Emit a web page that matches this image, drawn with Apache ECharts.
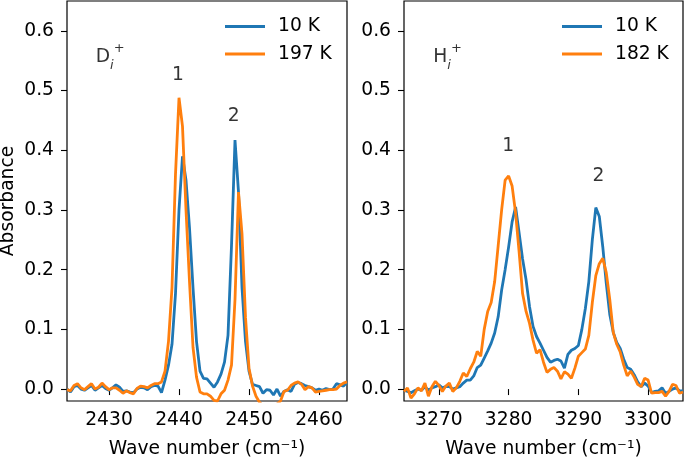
<!DOCTYPE html>
<html>
<head>
<meta charset="utf-8">
<script src="https://cdn.jsdelivr.net/npm/echarts@6/dist/echarts.min.js"></script>
<style>
html,body{margin:0;padding:0;background:#fff;}
#chart{width:685px;height:458px;}
</style>
</head>
<body>
<div id="chart"></div>
<script>
// ---- Data ----
var leftWave = [2424,2424.5,2425,2425.5,2426,2426.5,2427,2427.5,2428,2428.5,
  2429,2429.5,2430,2430.5,2431,2431.5,2432,2432.5,2433,2433.5,
  2434,2434.5,2435,2435.5,2436,2436.5,2437,2437.5,2438,2438.5,
  2439,2439.5,2440,2440.5,2441,2441.5,2442,2442.5,2443,2443.5,
  2444,2444.5,2445,2445.5,2446,2446.5,2447,2447.5,2448,2448.5,
  2449,2449.5,2450,2450.5,2451,2451.5,2452,2452.5,2453,2453.5,
  2454,2454.5,2455,2455.5,2456,2456.5,2457,2457.5,2458,2458.5,
  2459,2459.5,2460,2460.5,2461,2461.5,2462,2462.5,2463,2463.5,
  2464];
var left10K = [0.000,-0.005,0.004,0.006,0.000,-0.002,0.002,0.006,-0.002,0.002,
  0.006,0.001,-0.002,0.002,0.007,0.003,-0.004,-0.003,-0.005,-0.006,
  0.000,0.003,0.002,-0.001,0.004,0.006,0.005,-0.006,0.015,0.040,
  0.075,0.160,0.300,0.390,0.350,0.270,0.170,0.080,0.030,0.018,
  0.017,0.010,0.003,0.012,0.025,0.045,0.090,0.240,0.417,0.330,
  0.170,0.080,0.030,0.008,0.006,0.004,-0.007,-0.001,-0.002,-0.010,
  0.000,-0.012,-0.004,-0.001,-0.004,0.008,0.011,0.009,0.006,0.004,
  0.002,-0.002,0.000,-0.002,0.001,-0.001,0.000,0.009,0.007,0.005,
  0.011];
var left197K = [-0.001,-0.003,0.006,0.009,0.002,-0.001,0.004,0.009,0.000,0.003,
  0.010,0.004,-0.001,0.002,0.002,-0.002,-0.007,-0.003,-0.006,-0.008,
  0.001,0.005,0.004,0.002,0.006,0.009,0.009,0.012,0.030,0.080,
  0.170,0.360,0.488,0.440,0.300,0.180,0.070,0.020,-0.005,-0.008,
  -0.008,-0.012,-0.019,-0.020,-0.008,-0.002,0.015,0.040,0.150,0.330,
  0.260,0.120,0.035,0.005,-0.012,-0.022,-0.028,-0.030,-0.030,-0.028,
  -0.025,-0.020,-0.004,-0.002,0.006,0.010,0.012,0.008,-0.001,0.004,
  0.002,-0.005,-0.004,-0.003,-0.002,-0.001,-0.001,0.000,0.006,0.010,
  0.012];

var rightWave = [3265,3265.5,3266,3266.5,3267,3267.5,3268,3268.5,3269,3269.5,
  3270,3270.5,3271,3271.5,3272,3272.5,3273,3273.5,3274,3274.5,
  3275,3275.5,3276,3276.5,3277,3277.5,3278,3278.5,3279,3279.5,
  3280,3280.5,3281,3281.5,3282,3282.5,3283,3283.5,3284,3284.5,
  3285,3285.5,3286,3286.5,3287,3287.5,3288,3288.5,3289,3289.5,
  3290,3290.5,3291,3291.5,3292,3292.5,3293,3293.5,3294,3294.5,
  3295,3295.5,3296,3296.5,3297,3297.5,3298,3298.5,3299,3299.5,
  3300,3300.5,3301,3301.5,3302,3302.5,3303,3303.5,3304,3304.5,
  3305];
var right10K = [-0.002,-0.004,-0.006,-0.003,0.000,-0.002,0.004,-0.002,0.002,0.004,
  0.007,0.002,0.004,0.004,0.000,0.002,0.004,0.010,0.015,0.015,
  0.022,0.036,0.040,0.052,0.064,0.077,0.094,0.121,0.166,0.200,
  0.238,0.280,0.305,0.262,0.218,0.183,0.138,0.105,0.088,0.077,
  0.065,0.053,0.045,0.048,0.050,0.047,0.035,0.058,0.065,0.068,
  0.073,0.100,0.135,0.180,0.250,0.304,0.289,0.238,0.177,0.125,
  0.095,0.078,0.068,0.050,0.036,0.033,0.024,0.012,0.004,0.010,
  0.005,-0.006,-0.004,-0.003,0.002,-0.007,-0.004,0.000,0.002,-0.003,
  -0.003];
var right182K = [-0.004,0.002,-0.015,-0.008,0.002,-0.003,0.010,-0.012,0.004,0.013,
  0.006,-0.004,0.005,0.010,-0.004,0.002,0.013,0.027,0.021,0.034,
  0.045,0.063,0.055,0.100,0.130,0.145,0.180,0.240,0.300,0.350,
  0.357,0.340,0.295,0.230,0.160,0.130,0.110,0.082,0.060,0.066,
  0.045,0.028,0.033,0.036,0.030,0.017,0.029,0.025,0.018,0.035,
  0.055,0.061,0.067,0.090,0.145,0.190,0.210,0.219,0.195,0.150,
  0.095,0.075,0.062,0.040,0.022,0.030,0.020,0.008,0.004,0.018,
  0.015,-0.007,-0.006,-0.006,-0.004,-0.012,-0.004,0.008,0.006,-0.007,
  -0.005];

var leftXTicks = [2430, 2440, 2450, 2460];
var rightXTicks = [3270, 3280, 3290, 3300];
var yTicks = [0, 0.1, 0.2, 0.3, 0.4, 0.5, 0.6];
var leftNames = ['10 K', '197 K'];
var rightNames = ['10 K', '182 K'];
var leftPeakLabels = [['1', 2439.86, 0.526], ['2', 2447.8, 0.457]];
var rightPeakLabels = [['1', 3279.94, 0.407], ['2', 3292.86, 0.357]];
var leftSpecies = [['D', 2428.1, 0.556]];
var rightSpecies = [['H', 3269.2, 0.556]];

// ---- Chart ----
function pairs(xs, ys) { return xs.map(function (x, i) { return [x, ys[i]]; }); }
var FONT = 'DejaVu Sans';
var FS = 18.7;
var BLUE = '#1f77b4', ORANGE = '#ff7f0e';

function xAxisCfg(idx, min, max, ticks) {
  return {
    type: 'value', gridIndex: idx, min: min, max: max,
    name: 'Wave number (cm\u207B\u00B9)', nameLocation: 'middle', nameGap: 39,
    nameTextStyle: { fontFamily: FONT, fontSize: FS, color: '#000' },
    axisLine: { show: false },
    axisTick: { show: true, inside: false, length: 6, customValues: ticks, lineStyle: { color: '#000', width: 1.1 } },
    axisLabel: { customValues: ticks, margin: 10, fontFamily: FONT, fontSize: FS, color: '#000',
      formatter: function (v) { return String(v); } },
    splitLine: { show: false }
  };
}
function yAxisCfg(idx, withName) {
  return {
    type: 'value', gridIndex: idx, min: -0.02, max: 0.65,
    name: withName ? 'Absorbance' : '', nameLocation: 'middle', nameGap: 49,
    nameTextStyle: { fontFamily: FONT, fontSize: FS, color: '#000' },
    axisLine: { show: false },
    axisTick: { show: true, inside: false, length: 6, customValues: yTicks, lineStyle: { color: '#000', width: 1.1 } },
    axisLabel: { customValues: yTicks, margin: 13, fontFamily: FONT, fontSize: FS, color: '#000',
      formatter: function (v) { return v.toFixed(1); } },
    splitLine: { show: false }
  };
}
function lineSeries(name, idx, xs, ys, color) {
  return {
    type: 'line', name: name, xAxisIndex: idx, yAxisIndex: idx,
    data: pairs(xs, ys), symbol: 'none', showSymbol: false, clip: true,
    lineStyle: { color: color, width: 2.8 }, itemStyle: { color: color },
    animation: false
  };
}
function labelSeries(idx, arr) {
  return {
    type: 'scatter', xAxisIndex: idx, yAxisIndex: idx, symbolSize: 0, silent: true,
    data: arr.map(function (a) { return { value: [a[1], a[2]], name: a[0] }; }),
    label: { show: true, position: 'inside', formatter: function (p) { return p.name; },
      fontFamily: FONT, fontSize: FS, color: '#000' },
    animation: false
  };
}
function speciesSeries(idx, arr) {
  return {
    type: 'scatter', xAxisIndex: idx, yAxisIndex: idx, symbolSize: 0, silent: true,
    data: arr.map(function (a) { return { value: [a[1], a[2]], name: a[0] }; }),
    label: { show: true, position: 'right', distance: 0,
      formatter: function (p) { return '{a|' + p.name + '}{b|i}{c|+}'; },
      rich: {
        a: { fontFamily: FONT, fontSize: 18.7, color: '#000', lineHeight: 30, verticalAlign: 'middle' },
        b: { fontFamily: FONT, fontSize: 13, fontStyle: 'italic', color: '#000', lineHeight: 18, verticalAlign: 'bottom' },
        c: { fontFamily: FONT, fontSize: 13, color: '#000', lineHeight: 14, verticalAlign: 'top' }
      } },
    animation: false
  };
}
function legendCfg(names, left) {
  return {
    data: names.map(function (n) { return { name: n, icon: 'rect' }; }),
    orient: 'vertical', left: left, top: 17, padding: 0,
    itemWidth: 40, itemHeight: 2.8, itemGap: 8.5, selectedMode: false,
    textStyle: { fontFamily: FONT, fontSize: FS, color: '#000', padding: [0, 0, 0, 8] }
  };
}

var chart = echarts.init(document.getElementById('chart'), null, { renderer: 'canvas', width: 685, height: 458 });
chart.setOption({
  animation: false,
  backgroundColor: '#fff',
  grid: [
    { left: 67, top: 1, width: 280, height: 400, show: true, borderColor: '#000', borderWidth: 1.2, containLabel: false, outerBoundsMode: 'none' },
    { left: 404, top: 1, width: 279, height: 400, show: true, borderColor: '#000', borderWidth: 1.2, containLabel: false, outerBoundsMode: 'none' }
  ],
  xAxis: [xAxisCfg(0, 2424, 2464, leftXTicks), xAxisCfg(1, 3265, 3305, rightXTicks)],
  yAxis: [yAxisCfg(0, true), yAxisCfg(1, false)],
  legend: [legendCfg(leftNames, 225), legendCfg(rightNames, 562)],
  series: [
    lineSeries(leftNames[0], 0, leftWave, left10K, BLUE),
    lineSeries(leftNames[1], 0, leftWave, left197K, ORANGE),
    lineSeries(rightNames[0], 1, rightWave, right10K, BLUE),
    lineSeries(rightNames[1], 1, rightWave, right182K, ORANGE),
    labelSeries(0, leftPeakLabels),
    labelSeries(1, rightPeakLabels),
    speciesSeries(0, leftSpecies),
    speciesSeries(1, rightSpecies)
  ]
});
</script>
</body>
</html>
